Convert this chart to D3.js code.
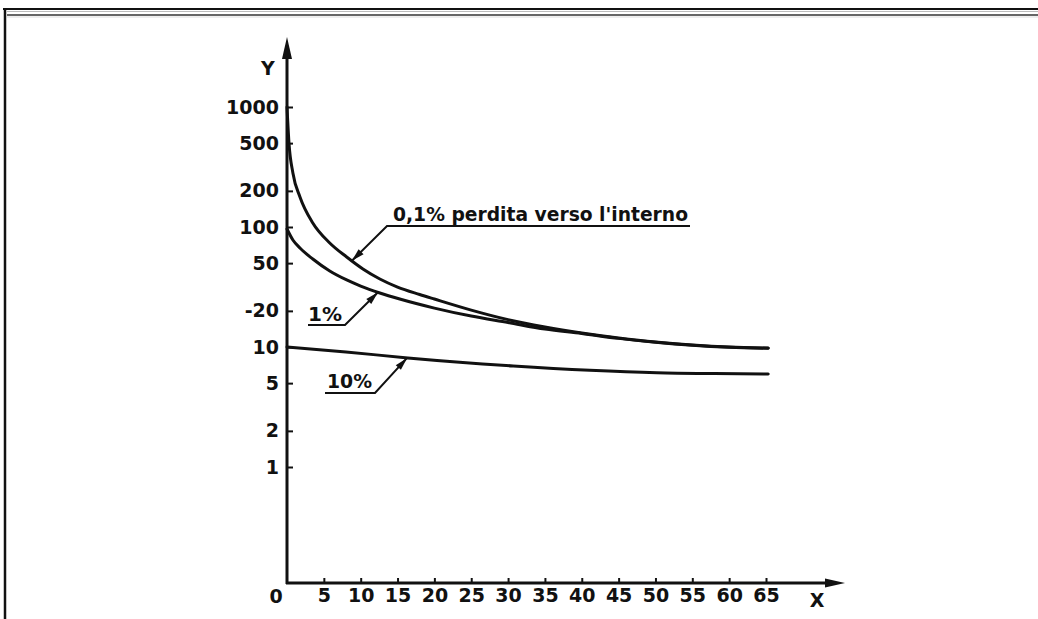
<!DOCTYPE html>
<html>
<head>
<meta charset="utf-8">
<script src="https://cdn.jsdelivr.net/npm/d3@7"></script>
<style>
  body { margin: 0; background: #fff; }
  svg text { font-family: 'DejaVu Sans', sans-serif; font-weight: bold; fill: #111; }
</style>
</head>
<body>
<div id="chart"></div>
<script>
// Tick values and their printed labels (the scan really prints "-20")
var xTicks = [5, 10, 15, 20, 25, 30, 35, 40, 45, 50, 55, 60, 65];
var yTicks = [1000, 500, 200, 100, 50, 20, 10, 5, 2, 1];
var yTickLabels = ['1000', '500', '200', '100', '50', '-20', '10', '5', '2', '1'];

// Series names
var lossLabels = ['0,1% perdita verso l\'interno', '1%', '10%'];

// 0,1% loss curve
var loss01X = [0, 0.27, 0.8, 1.76, 3.5, 5.8, 8.1, 10.3, 12.6, 15, 18, 20, 25, 30, 35, 40, 45, 50, 55, 60, 65.3];
var loss01Y = [1000, 500, 282, 178, 108, 73.6, 56.2, 44.7, 36.9, 31.6, 27.4, 25.1, 20.3, 16.9, 14.7, 13.1, 11.9, 11.0, 10.4, 10.0, 9.8];

// 1% loss curve
var loss1X = [0, 0.8, 1.76, 3.5, 5.8, 8.1, 10, 12.6, 15.3, 20, 25, 30, 35, 40, 45, 50, 55, 60, 65.3];
var loss1Y = [96.2, 77.9, 66.8, 54.1, 43.0, 36.2, 32.2, 28.2, 25.1, 21.1, 18.1, 16.0, 14.1, 12.96, 11.8, 10.96, 10.35, 9.96, 9.77];

// 10% loss curve
var loss10X = [0, 8, 16.4, 30.7, 41.1, 50.2, 58, 65.3];
var loss10Y = [10, 9.1, 8.1, 6.95, 6.4, 6.1, 6.0, 5.95];

function zip(xs, ys) {
  return xs.map((v, i) => [v, ys[i]]);
}

// value on a curve at a given x, interpolated in log space
function valueAt(xs, ys, at) {
  for(var i = 1; i < xs.length; i++) {
    if(at <= xs[i]) {
      var t = (at - xs[i - 1]) / (xs[i] - xs[i - 1]);
      var l = Math.log10(ys[i - 1]) + t * (Math.log10(ys[i]) - Math.log10(ys[i - 1]));
      return Math.pow(10, l);
    }
  }
  return ys[ys.length - 1];
}

function arrowHead(tip, from, len, half) {
  var dx = tip[0] - from[0];
  var dy = tip[1] - from[1];
  var d = Math.sqrt(dx * dx + dy * dy);
  var ux = dx / d, uy = dy / d;
  var bx = tip[0] - ux * len, by = tip[1] - uy * len;
  return [tip, [bx - uy * half, by + ux * half], [bx + uy * half, by - ux * half]];
}

function createChart() {
  var canvasWidth = 1038;
  var canvasHeight = 619;

  var svg = d3.select('#chart')
    .append('svg')
    .attr('width', canvasWidth)
    .attr('height', canvasHeight)
    .style('display', 'block');

  svg.append('rect')
    .attr('width', canvasWidth)
    .attr('height', canvasHeight)
    .attr('fill', '#fff');

  // window frame of the scanned page
  var frame = svg.append('g').attr('fill', 'none');
  frame.append('line').attr('x1', 3).attr('x2', canvasWidth).attr('y1', 9).attr('y2', 9)
    .attr('stroke', '#111').attr('stroke-width', 2);
  frame.append('line').attr('x1', 7).attr('x2', canvasWidth).attr('y1', 11.5).attr('y2', 11.5)
    .attr('stroke', '#bbb').attr('stroke-width', 1);
  frame.append('line').attr('x1', 7).attr('x2', canvasWidth).attr('y1', 15).attr('y2', 15)
    .attr('stroke', '#666').attr('stroke-width', 2);
  frame.append('line').attr('x1', 7).attr('x2', canvasWidth).attr('y1', 17).attr('y2', 17)
    .attr('stroke', '#ddd').attr('stroke-width', 1);
  frame.append('line').attr('x1', 5).attr('x2', 5).attr('y1', 8).attr('y2', canvasHeight)
    .attr('stroke', '#111').attr('stroke-width', 2.5);

  return svg;
}

function renderChart(svg) {
  var originX = 287;
  var originY = 583;

  var x = d3.scaleLinear().domain([0, 65]).range([originX, 766]);
  var y = d3.scaleLog().domain([1, 1000]).range([467, 107]);

  // x axis ticks and labels
  var xAxis = svg.append('g')
    .attr('transform', 'translate(0,' + originY + ')')
    .call(d3.axisBottom(x).tickValues(xTicks).tickSize(-5).tickPadding(6).tickFormat(d3.format('d')));

  // y axis ticks and labels
  var yAxis = svg.append('g')
    .attr('transform', 'translate(' + originX + ',0)')
    .call(d3.axisLeft(y).tickValues(yTicks).tickSize(-6).tickPadding(8)
      .tickFormat(d => yTickLabels[yTicks.indexOf(d)]));

  [xAxis, yAxis].forEach(axis => {
    axis.attr('font-family', null).attr('font-size', null);
    axis.select('.domain').remove();
    axis.selectAll('.tick line').attr('stroke', '#111').attr('stroke-width', 2);
    axis.selectAll('.tick text').style('font-size', '19px').style('fill', '#111');
  });

  // axis lines with arrows
  svg.append('line')
    .attr('x1', originX).attr('x2', originX)
    .attr('y1', originY + 1).attr('y2', 50)
    .attr('stroke', '#111').attr('stroke-width', 3);
  svg.append('line')
    .attr('x1', originX - 1).attr('x2', 832)
    .attr('y1', originY).attr('y2', originY)
    .attr('stroke', '#111').attr('stroke-width', 3);

  svg.append('path')
    .attr('d', d3.line()(arrowHead([originX, 37], [originX, 80], 22, 5)) + 'Z')
    .attr('fill', '#111');
  svg.append('path')
    .attr('d', d3.line()(arrowHead([845, originY], [800, originY], 20, 4.5)) + 'Z')
    .attr('fill', '#111');

  svg.append('text').attr('x', 276).attr('y', 596).attr('dy', '0.36em')
    .attr('text-anchor', 'middle').style('font-size', '19px').text('0');
  svg.append('text').attr('x', 268).attr('y', 68).attr('dy', '0.36em')
    .attr('text-anchor', 'middle').style('font-size', '19px').text('Y');
  svg.append('text').attr('x', 817).attr('y', 600).attr('dy', '0.36em')
    .attr('text-anchor', 'middle').style('font-size', '19px').text('X');

  // curves
  var line = d3.line()
    .x(d => x(d[0]))
    .y(d => y(d[1]))
    .curve(d3.curveMonotoneX);

  var series = [
    { name: lossLabels[0], xs: loss01X, ys: loss01Y },
    { name: lossLabels[1], xs: loss1X, ys: loss1Y },
    { name: lossLabels[2], xs: loss10X, ys: loss10Y }
  ];

  svg.selectAll('path.curve')
    .data(series)
    .enter()
    .append('path')
    .attr('class', 'curve')
    .attr('d', d => line(zip(d.xs, d.ys)))
    .style('fill', 'none')
    .style('stroke', '#111')
    .style('stroke-width', 3)
    .style('stroke-linecap', 'round');

  // labels with underline and leader arrow pointing at the curve
  var notes = [
    { s: series[0], at: 8.8, elbow: [387, 226], end: 690, tx: 393, ty: 221, len: 295 },
    { s: series[1], at: 12.35, elbow: [345, 325], end: 308, tx: 308, ty: 321, len: 34 },
    { s: series[2], at: 16.3, elbow: [375, 393], end: 325, tx: 327, ty: 388, len: 45 }
  ];

  notes.forEach(n => {
    var tip = [x(n.at), y(valueAt(n.s.xs, n.s.ys, n.at))];
    var g = svg.append('g');

    g.append('text')
      .attr('x', n.tx)
      .attr('y', n.ty)
      .attr('textLength', n.len)
      .attr('lengthAdjust', 'spacingAndGlyphs')
      .style('font-size', '19px')
      .text(n.s.name);

    g.append('path')
      .attr('d', d3.line()([[n.end, n.elbow[1]], n.elbow, tip]))
      .attr('fill', 'none')
      .attr('stroke', '#111')
      .attr('stroke-width', 2);

    g.append('path')
      .attr('d', d3.line()(arrowHead(tip, n.elbow, 13, 3.5)) + 'Z')
      .attr('fill', '#111');
  });
}

function init() {
  var svg = createChart();
  renderChart(svg);
}

window.onload = init;
</script>
</body>
</html>
